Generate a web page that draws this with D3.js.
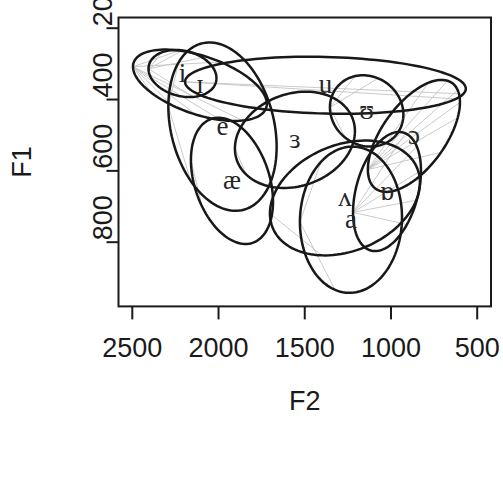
<!DOCTYPE html>
<html><head><meta charset="utf-8">
<script src="https://cdn.jsdelivr.net/npm/d3@7"></script>
<style>body{margin:0;background:#fff}svg{display:block}</style>
</head><body><svg id="c" width="503" height="488"></svg>
<script>
// ---- data (F2, F1 in Hz) ----
const vowels   = ["i","ɪ","e","æ","ɜ","u","ʊ","ɔ","ɒ","ʌ","a"];
const f2Mean   = [2209, 2108, 1977, 1922, 1557, 1380, 1141,  867, 1023, 1267, 1232];
const f1Mean   = [ 327,  360,  476,  628,  513,  360,  432,  502,  658,  676,  737];
const f2Spread = [ 197,  388,  314,  238,  348,  814,  213,  267,  197,  435,  296];
const f1Spread = [  66,  100,  236,  177,  135,   80,  100,  157,  167,  161,  205];
const corr     = [-0.2, -0.52, -0.24, -0.33, 0.18, -0.12, -0.1, 0.6, 0.35, 0.27, 0.03];
// polygon fill seams (fraction of the ellipse outline joined to its first vertex)
const seams = [
  [0.3, 0.65, 0.75, 0.85],
  [0.12, 0.18, 0.24, 0.3, 0.36, 0.7, 0.8],
  [0.15, 0.9],
  [0.12],
  [0.1],
  [0.44, 0.47],
  [0.15, 0.7, 0.8],
  [0.35, 0.45, 0.5, 0.55, 0.62, 0.7],
  [0.35, 0.42, 0.5, 0.58, 0.66],
  [0.2],
  [0.2, 0.85]
];
const xTicks = [2500, 2000, 1500, 1000, 500];
const yTicks = [200, 400, 600, 800];

// ---- chart ----
const svg = d3.select("#c");
const L = 118.5, R = 491, T = 17.5, B = 306.4;
const x = d3.scaleLinear().domain([2580, 420]).range([L, R]);
const y = d3.scaleLinear().domain([170, 980]).range([T, B]);

function pt(k, t) {
  const r = corr[k], s = Math.sqrt(1 - r * r);
  return [x(f2Mean[k] + f2Spread[k] * Math.cos(t)),
          y(f1Mean[k] + f1Spread[k] * (r * Math.cos(t) + s * Math.sin(t)))];
}

const g = svg.append("g");
const N = 120;
vowels.forEach((v, k) => {
  const p0 = pt(k, 0);
  seams[k].forEach(f => {
    const p = pt(k, f * 2 * Math.PI);
    g.append("line").attr("x1", p0[0]).attr("y1", p0[1])
      .attr("x2", p[0]).attr("y2", p[1])
      .attr("stroke", "#c4c4c4").attr("stroke-width", 0.9);
  });
});
const line = d3.line().curve(d3.curveLinearClosed);
vowels.forEach((v, k) => {
  const pts = d3.range(N).map(i => pt(k, i / N * 2 * Math.PI));
  g.append("path").attr("d", line(pts)).attr("fill", "none")
    .attr("stroke", "#181818").attr("stroke-width", 2.5);
});
vowels.forEach((v, k) => {
  g.append("text").attr("x", x(f2Mean[k])).attr("y", y(f1Mean[k]))
    .attr("dy", "0.3em").attr("text-anchor", "middle")
    .attr("font-family", "'Liberation Serif','DejaVu Serif',serif")
    .attr("font-size", 27).attr("fill", "#262626").text(v);
});

// box
svg.append("rect").attr("x", L).attr("y", T).attr("width", R - L).attr("height", B - T)
  .attr("fill", "none").attr("stroke", "#1a1a1a").attr("stroke-width", 2);

const font = "'Liberation Sans',Arial,sans-serif";
// x axis
const xa = svg.append("g");
xTicks.forEach(t => {
  xa.append("line").attr("x1", x(t)).attr("x2", x(t)).attr("y1", B).attr("y2", B + 13)
    .attr("stroke", "#1a1a1a").attr("stroke-width", 2);
  xa.append("text").attr("x", x(t)).attr("y", 356.5).attr("text-anchor", "middle")
    .attr("font-family", font).attr("font-size", 27).attr("fill", "#1a1a1a").text(t);
});
// y axis
const ya = svg.append("g");
yTicks.forEach(t => {
  ya.append("line").attr("x1", L - 12).attr("x2", L).attr("y1", y(t)).attr("y2", y(t))
    .attr("stroke", "#1a1a1a").attr("stroke-width", 2);
  ya.append("text").attr("transform", `translate(112,${y(t) - 2}) rotate(-90)`)
    .attr("text-anchor", "start")
    .attr("font-family", font).attr("font-size", 27).attr("fill", "#1a1a1a").text(t);
});
// titles
svg.append("text").attr("x", (L + R) / 2).attr("y", 410).attr("text-anchor", "middle")
  .attr("font-family", font).attr("font-size", 27).attr("fill", "#1a1a1a").text("F2");
svg.append("text").attr("transform", `translate(31,${(T + B) / 2}) rotate(-90)`)
  .attr("text-anchor", "middle")
  .attr("font-family", font).attr("font-size", 27).attr("fill", "#1a1a1a").text("F1");
</script></body></html>
